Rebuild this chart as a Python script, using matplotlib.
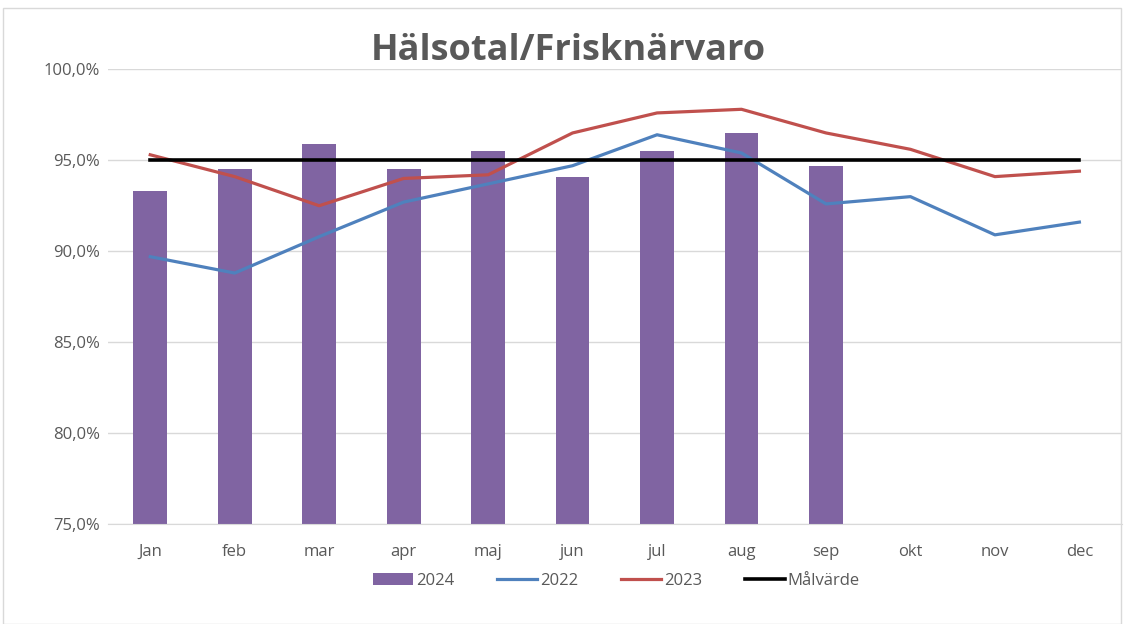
import matplotlib
matplotlib.use("Agg")
import matplotlib.pyplot as plt
from matplotlib.ticker import FuncFormatter, MultipleLocator
from matplotlib.patches import Rectangle
import numpy as np

months = ["Jan", "feb", "mar", "apr", "maj", "jun", "jul", "aug", "sep", "okt", "nov", "dec"]
v2024 = [93.3, 94.5, 95.9, 94.5, 95.5, 94.1, 95.5, 96.5, 94.7]
v2022 = [89.7, 88.8, 90.8, 92.7, 93.7, 94.7, 96.4, 95.4, 92.6, 93.0, 90.9, 91.6]
v2023 = [95.3, 94.1, 92.5, 94.0, 94.2, 96.5, 97.6, 97.8, 96.5, 95.6, 94.1, 94.4]
target = [95.0] * 12

plt.rcParams['font.family'] = ['Open Sans', 'DejaVu Sans']
fig = plt.figure(figsize=(11.25, 6.24), dpi=100)
ax = fig.add_axes([0.096, 0.160, 0.901, 0.729])

x = np.arange(len(months))
hb = ax.bar(x[:len(v2024)], v2024, width=0.4, color="#8064A2", label="2024", zorder=2)
h22, = ax.plot(x, v2022, color="#4F81BD", lw=2.3, label="2022", zorder=3)
h23, = ax.plot(x, v2023, color="#C0504D", lw=2.3, label="2023", zorder=3)
ht, = ax.plot(x, target, color="black", lw=2.6, label="Målvärde", zorder=4)

ax.set_ylim(75, 100)
ax.set_xlim(-0.5, 11.5)
ax.yaxis.set_major_locator(MultipleLocator(5))
ax.yaxis.set_major_formatter(FuncFormatter(lambda v, p: f"{v:.1f}%".replace(".", ",")))
ax.set_xticks(x)
ax.set_xticklabels(months)
ax.grid(axis="y", color="#D9D9D9", lw=1, zorder=0)
for s in ["top", "right", "left"]:
    ax.spines[s].set_visible(False)
ax.spines["bottom"].set_color("#D9D9D9")
ax.tick_params(axis="both", length=0, colors="#595959", labelsize=12)
ax.tick_params(axis="x", pad=14)
ax.tick_params(axis="y", pad=6)

fig.text(0.505, 0.918, "Hälsotal/Frisknärvaro", ha="center", va="center",
         fontsize=26, fontweight="bold", color="#595959")

leg = fig.legend([hb, h22, h23, ht], ["2024", "2022", "2023", "Målvärde"],
                 loc="center", bbox_to_anchor=(0.548, 0.069), ncol=4, frameon=False,
                 fontsize=12, handlelength=2.4, columnspacing=2.6, handletextpad=0.15)
for t in leg.get_texts():
    t.set_color("#595959")

fig.patches.append(Rectangle((0.003, 0.0), 0.993, 0.987, transform=fig.transFigure,
                             fill=False, edgecolor="#D9D9D9", lw=1))

fig.savefig("out.png", dpi=100)
